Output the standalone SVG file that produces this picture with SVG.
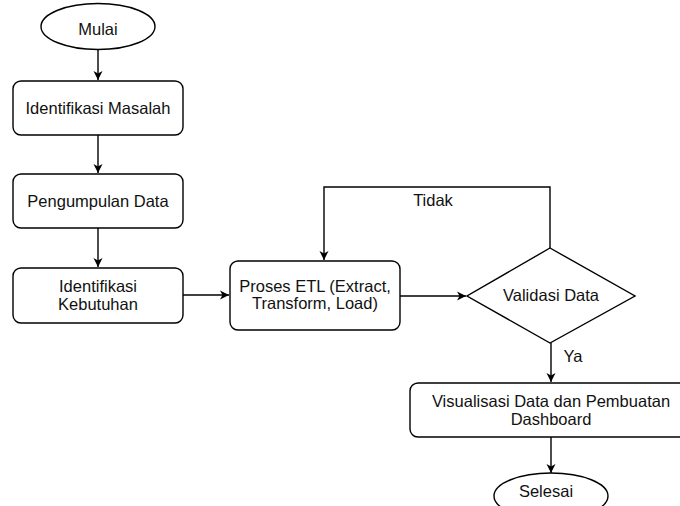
<svg xmlns="http://www.w3.org/2000/svg" width="680" height="506" viewBox="0 0 680 506">
<defs>
<marker id="arr" markerWidth="10" markerHeight="10" refX="9" refY="5" orient="auto" markerUnits="userSpaceOnUse">
<path d="M0,0.5 L9,5 L0,9.5 L2.5,5 Z" fill="#000"/>
</marker>
<style>
.shape{fill:#fff;stroke:#000;stroke-width:1.4}
.edge{fill:none;stroke:#000;stroke-width:1.4;marker-end:url(#arr)}
text{font-family:"Liberation Sans",Arial,sans-serif;font-size:16.5px;fill:#111;text-anchor:middle}
</style>
</defs>
<rect width="680" height="506" fill="#fff"/>
<g id="connectors">
<path class="edge" d="M98,50 V80"/>
<path class="edge" d="M98,135 V173"/>
<path class="edge" d="M98,228 V267"/>
<path class="edge" d="M183,295 H229"/>
<path class="edge" d="M400,296 H466"/>
<path class="edge" d="M550,248 V187 H324 V260"/>
<path class="edge" d="M551,343 V382"/>
<path class="edge" d="M551,437 V473"/>
<text x="433" y="206">Tidak</text>
<text x="573" y="362">Ya</text>
</g>
<g id="mulai">
<ellipse class="shape" cx="98" cy="26.5" rx="57" ry="23"/>
<text x="98" y="35">Mulai</text>
</g>
<g id="identifikasi-masalah">
<rect class="shape" x="13" y="81" width="170" height="54" rx="8"/>
<text x="98" y="114">Identifikasi Masalah</text>
</g>
<g id="pengumpulan-data">
<rect class="shape" x="13" y="174" width="170" height="54" rx="8"/>
<text x="98" y="207">Pengumpulan Data</text>
</g>
<g id="identifikasi-kebutuhan">
<rect class="shape" x="13" y="268" width="170" height="55" rx="8"/>
<text x="98" y="291.5">Identifikasi</text>
<text x="98" y="310">Kebutuhan</text>
</g>
<g id="proses-etl">
<rect class="shape" x="230" y="261" width="170" height="69" rx="8"/>
<text x="315" y="291.5">Proses ETL (Extract,</text>
<text x="315" y="309">Transform, Load)</text>
</g>
<g id="validasi-data">
<polygon class="shape" points="550,248 635,296 550,343 467,296"/>
<text x="551" y="301">Validasi Data</text>
</g>
<g id="visualisasi">
<rect class="shape" x="410" y="383" width="282" height="54" rx="8"/>
<text x="551" y="406.5">Visualisasi Data dan Pembuatan</text>
<text x="551" y="425">Dashboard</text>
</g>
<g id="selesai">
<ellipse class="shape" cx="551" cy="496" rx="57" ry="23"/>
<text x="546" y="497">Selesai</text>
</g>
</svg>
